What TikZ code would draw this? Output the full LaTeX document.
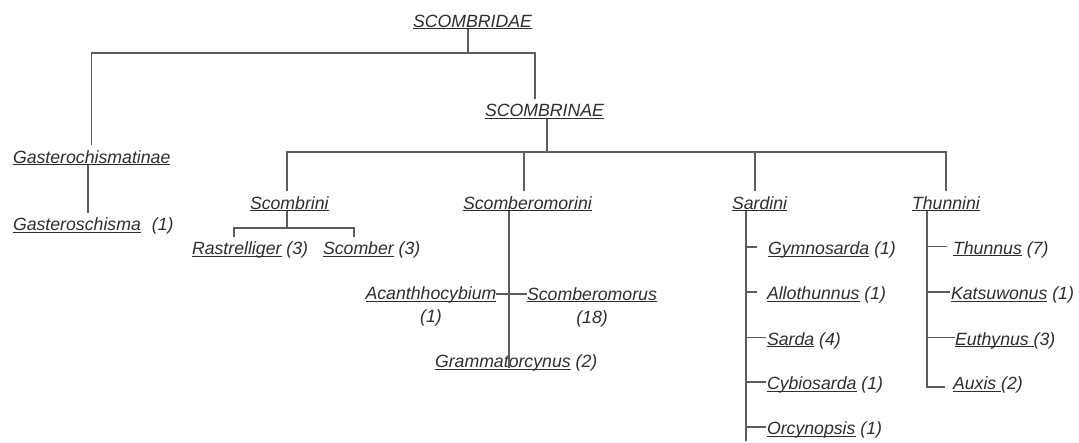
\documentclass[tikz,border=0pt]{standalone}
\usepackage{fontspec}
\setmainfont{Liberation Sans}
\newsavebox\ulbx
\newcommand\uln[1]{\sbox\ulbx{#1}\rlap{\rule[-2pt]{\wd\ulbx}{1.1pt}}\usebox\ulbx}
\definecolor{txt}{gray}{0.18}
\definecolor{lnc}{gray}{0.36}
\begin{document}
\begin{tikzpicture}[x=1pt,y=-1pt,
  lbl/.style={inner sep=0pt, outer sep=0pt, anchor=base west, text=txt,
    font=\fontsize{17.7}{23}\selectfont\itshape, text height=18pt, text depth=2pt},
  lbl2/.style={inner sep=0pt, outer sep=0pt, anchor=base, text=txt,
    font=\fontsize{17.7}{23}\selectfont\itshape},
  ln/.style={draw=lnc, line width=1.3pt}]
\fill[white] (0,0) rectangle (1079,443);
\useasboundingbox (0,0) rectangle (1079,443);

% nodes
\node[lbl] (scombridae) at (413,27.5) {\uln{SCOMBRIDAE}};
\node[lbl] (scombrinae) at (485,117) {\uln{SCOMBRINAE}};
\node[lbl] (gasto) at (13,163.5) {\uln{Gasterochismatinae}};
\node[lbl] (gsch) at (13,231) {\uln{Gasteroschisma}\hspace{11pt}(1)};
\node[lbl] (scombrini) at (250,209.5) {\uln{Scombrini}};
\node[lbl] (scomberomorini) at (463,209.5) {\uln{Scomberomorini}};
\node[lbl] (sardini) at (732,209.5) {\uln{Sardini}};
\node[lbl] (thunnini) at (912,209.5) {\uln{Thunnini}};
\node[lbl] (rastrelliger) at (192,255) {\uln{Rastrelliger} (3)};
\node[lbl] (scomber) at (323,255) {\uln{Scomber} (3)};
\node[lbl2] (acantho) at (431,300) {\begin{tabular}[t]{@{}c@{}}\uln{Acanthhocybium}\\(1)\end{tabular}};
\node[lbl2] (scomberomorus) at (592,300.5) {\begin{tabular}[t]{@{}c@{}}\uln{Scomberomorus}\\(18)\end{tabular}};
\node[lbl] (gram) at (435,368) {\uln{Grammatorcynus} (2)};
\node[lbl] (gymno) at (768,255) {\uln{Gymnosarda} (1)};
\node[lbl] (allo) at (767,300) {\uln{Allothunnus} (1)};
\node[lbl] (sarda) at (767,345.5) {\uln{Sarda} (4)};
\node[lbl] (cybio) at (767,390) {\uln{Cybiosarda} (1)};
\node[lbl] (orcy) at (767,435) {\uln{Orcynopsis} (1)};
\node[lbl] (thunnus) at (953,254.5) {\uln{Thunnus} (7)};
\node[lbl] (katsu) at (951,300) {\uln{Katsuwonus} (1)};
\node[lbl] (euthy) at (955,345.5) {\uln{Euthynus\ }(3)};
\node[lbl] (auxis) at (953,390) {\uln{Auxis\ }(2)};

% junction coordinates
\coordinate (j1) at (468,53);
\coordinate (jR) at (535,53);
\coordinate (vg) at (88,0);
\coordinate (j2) at (547,152);
\coordinate (k1) at (287,152);
\coordinate (k2) at (524,152);
\coordinate (k3) at (755,152);
\coordinate (k4) at (946,152);
\coordinate (s1) at (287,228);
\coordinate (s2) at (234,228);
\coordinate (s3) at (354,228);
\coordinate (m1) at (509,294);
\coordinate (a1) at (746,0);
\coordinate (aend) at (746,441);
\coordinate (b1) at (927,0);
\coordinate (bc) at (927,387);
\coordinate (bc2) at (945,387);

% connectors
\draw[ln] (scombridae.south -| j1) -- (j1);
\draw[ln] (gasto.north) |- (jR) -- (scombrinae.north -| jR);
\draw[ln] (gasto.south -| vg) -- (gsch.north -| vg);
\draw[ln] (scombrinae.south -| j2) -- (j2);
\draw[ln] (scombrini.north -| k1) -- (k1) -- (k4) -- (thunnini.north -| k4);
\draw[ln] (scomberomorini.north -| k2) -- (k2);
\draw[ln] (sardini.north -| k3) -- (k3);
\draw[ln] (scombrini.south -| s1) -- (s1);
\draw[ln] (rastrelliger.north -| s2) -- (s2) -- (s3) -- (scomber.north -| s3);
\draw[ln] (scomberomorini.south -| m1) -- (gram.base -| m1);
\draw[ln] (acantho.east |- m1) -- (scomberomorus.west |- m1);
\draw[ln] (sardini.south -| a1) -- (aend);
\draw[ln, shorten >=11pt] (gymno.west -| a1) -- (gymno.west);
\draw[ln, shorten >=10pt] (allo.west -| a1) -- (allo.west);
\draw[ln, shorten >=1pt] (sarda.west -| a1) -- (sarda.west);
\draw[ln, shorten >=1pt] (cybio.west -| a1) -- (cybio.west);
\draw[ln, shorten >=1pt] (orcy.west -| a1) -- (orcy.west);
\draw[ln] (thunnini.south -| b1) -- (bc) -- (bc2);
\draw[ln, shorten >=6pt] (thunnus.west -| b1) -- (thunnus.west);
\draw[ln, shorten >=1pt] (katsu.west -| b1) -- (katsu.west);
\draw[ln] (euthy.west -| b1) -- (euthy.west);
\end{tikzpicture}
\end{document}
